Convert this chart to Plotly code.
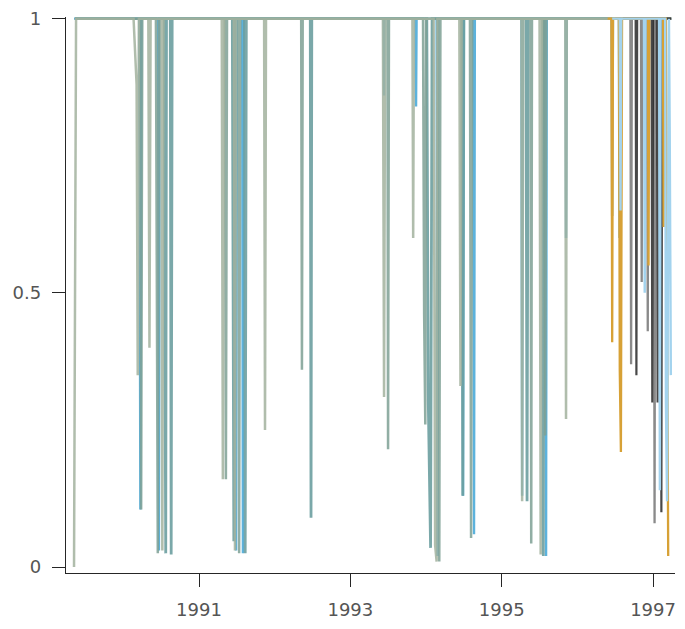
import plotly.graph_objects as go

# ---- data (decimal years) ----
blue_x = [1989.348, 1990.21, 1990.225, 1990.24, 1990.46, 1990.47, 1990.48, 1991.48, 1991.49, 1991.50,
          1991.57, 1991.58, 1991.59, 1993.44, 1993.445, 1993.45, 1993.86, 1993.868, 1993.875,
          1994.14, 1994.15, 1994.16, 1994.48, 1994.489, 1994.50, 1994.625, 1994.634, 1994.645,
          1995.26, 1995.27, 1995.28, 1995.575, 1995.586, 1995.595, 1995.845, 1995.85, 1995.86, 1996.40]
blue_y = [1, 1, 0.105, 1, 1, 0.03, 1, 1, 0.03, 1,
          1, 0.025, 1, 1, 0.86, 1, 1, 0.84, 1,
          1, 0.02, 1, 1, 0.13, 1, 1, 0.06, 1,
          1, 0.13, 1, 1, 0.02, 1, 1, 0.6, 1, 1]

sage_x = [1989.348, 1989.375, 1990.135, 1990.175, 1990.19, 1990.205, 1990.33, 1990.345, 1990.36,
          1990.50, 1990.515, 1990.53, 1991.30, 1991.315, 1991.33, 1991.46, 1991.475, 1991.49,
          1991.86, 1991.872, 1991.885, 1993.43, 1993.445, 1993.46, 1993.82, 1993.83, 1993.84,
          1994.10, 1994.12, 1994.14, 1994.15, 1994.44, 1994.455, 1994.47, 1995.26, 1995.27, 1995.285,
          1995.50, 1995.515, 1995.53, 1995.84, 1995.85, 1995.86, 1997.24]
sage_y = [0, 1, 1, 0.88, 0.35, 1, 1, 0.40, 1,
          1, 0.03, 1, 1, 0.16, 1, 1, 0.03, 1,
          1, 0.25, 1, 1, 0.31, 1, 1, 0.60, 1,
          1, 0.04, 0.01, 1, 1, 0.33, 1, 1, 0.12, 1,
          1, 0.023, 1, 1, 0.27, 1, 1]

grey_green_x = [1989.36, 1990.22, 1990.235, 1990.25, 1990.43, 1990.445, 1990.455, 1990.47,
                1991.34, 1991.355, 1991.37, 1991.52, 1991.53, 1991.545, 1992.35, 1992.36, 1992.37,
                1993.49, 1993.498, 1993.51, 1993.96, 1993.975, 1993.99, 1994.00, 1994.16, 1994.175, 1994.19,
                1994.58, 1994.595, 1994.61, 1995.38, 1995.39, 1995.40, 1995.56, 1995.575, 1995.59,
                1996.45, 1996.46, 1996.47, 1997.24]
grey_green_y = [1, 1, 0.105, 1, 1, 0.18, 0.025, 1,
                1, 0.16, 1, 1, 0.025, 1, 1, 0.36, 1,
                1, 0.215, 1, 1, 0.46, 0.26, 1, 1, 0.01, 1,
                1, 0.053, 1, 1, 0.043, 1, 1, 0.24, 1,
                1, 0.64, 1, 1]

teal_x = [1989.36, 1990.54, 1990.55, 1990.56, 1990.57, 1990.62, 1990.632, 1990.645,
          1991.44, 1991.45, 1991.46, 1991.47, 1991.60, 1991.61, 1991.625, 1992.47, 1992.48, 1992.49,
          1994.01, 1994.03, 1994.06, 1994.08, 1994.47, 1994.485, 1994.50, 1995.32, 1995.335, 1995.35,
          1995.54, 1995.55, 1995.56, 1996.55, 1996.56, 1996.57, 1997.24]
teal_y = [1, 1, 0.385, 0.025, 1, 1, 0.023, 1,
          1, 0.57, 0.047, 1, 1, 0.025, 1, 1, 0.09, 1,
          1, 0.30, 0.035, 1, 1, 0.13, 1, 1, 0.12, 1,
          1, 0.02, 1, 1, 0.60, 1, 1]

orange_x = [1996.40, 1996.45, 1996.46, 1996.47, 1996.55, 1996.56, 1996.575, 1996.59,
            1996.93, 1996.94, 1996.95, 1997.13, 1997.14, 1997.15, 1997.17, 1997.19, 1997.20]
orange_y = [1, 1, 0.41, 1, 1, 0.36, 0.21, 1,
            1, 0.55, 1, 1, 0.62, 1, 1, 0.04, 0.02]

grey_x = [1996.50, 1996.70, 1996.71, 1996.72, 1996.84, 1996.85, 1996.86, 1996.92, 1996.93, 1996.94,
          1997.01, 1997.02, 1997.03, 1997.09, 1997.10, 1997.11, 1997.24]
grey_y = [1, 1, 0.37, 1, 1, 0.52, 1, 1, 0.43, 1,
          1, 0.08, 1, 1, 0.25, 1, 1]

black_x = [1996.60, 1996.77, 1996.78, 1996.79, 1996.98, 1996.99, 1997.00,
           1997.05, 1997.06, 1997.07, 1997.10, 1997.11, 1997.12, 1997.24]
black_y = [1, 1, 0.35, 1, 1, 0.30, 1,
           1, 0.30, 1, 1, 0.10, 1, 1]

sky_x = [1996.46, 1996.56, 1996.57, 1996.58, 1996.88, 1996.89, 1996.90, 1997.08, 1997.09, 1997.10,
         1997.16, 1997.17, 1997.185, 1997.21, 1997.22, 1997.235]
sky_y = [1, 1, 0.65, 1, 1, 0.5, 1, 1, 0.14, 1,
         1, 0.30, 0.12, 1, 0.8, 0.35]

series = [
    (blue_x, blue_y, "#5cb2dc", 2.4),
    (teal_x, teal_y, "rgba(108,158,160,0.9)", 2.8),
    (grey_green_x, grey_green_y, "rgba(126,160,148,0.85)", 2.5),
    (sage_x, sage_y, "rgba(162,178,158,0.85)", 2.5),
    (grey_x, grey_y, "rgba(125,125,125,0.9)", 2.3),
    (black_x, black_y, "rgba(40,40,40,0.85)", 2.2),
    (orange_x, orange_y, "#d7a136", 2.3),
    (sky_x, sky_y, "#a3d3ee", 2.4),
]

fig = go.Figure()
for xs, ys, col, w in series:
    fig.add_trace(go.Scatter(x=xs, y=ys, mode="lines",
                             line=dict(color=col, width=w), showlegend=False,
                             hoverinfo="skip"))

axis_font = dict(family="DejaVu Sans", size=18, color="#555555")
fig.update_layout(
    width=677, height=621,
    margin=dict(l=58, r=10, t=9, b=56),
    plot_bgcolor="white", paper_bgcolor="white",
    xaxis=dict(range=[1989.242, 1997.29], tickvals=[1991, 1993, 1995, 1997],
               ticktext=["1991", "1993", "1995", "1997"], automargin=False,
               showgrid=False, zeroline=False, showline=True, linecolor="#262626", linewidth=1.4,
               ticks="outside", ticklen=13, tickwidth=1.4, tickcolor="#262626",
               ticklabelstandoff=7, ticklabeloverflow="allow", tickfont=axis_font),
    yaxis=dict(range=[-0.0108, 1.003], tickvals=[0, 0.5, 1], ticktext=["0", "0.5", "1"],
               automargin=False,
               showgrid=False, zeroline=False, showline=True, linecolor="#262626", linewidth=1.4,
               ticks="outside", ticklen=13, tickwidth=1.4, tickcolor="#262626",
               ticklabelstandoff=7, ticklabeloverflow="allow", tickfont=axis_font),
)
fig.write_html("out.html")
